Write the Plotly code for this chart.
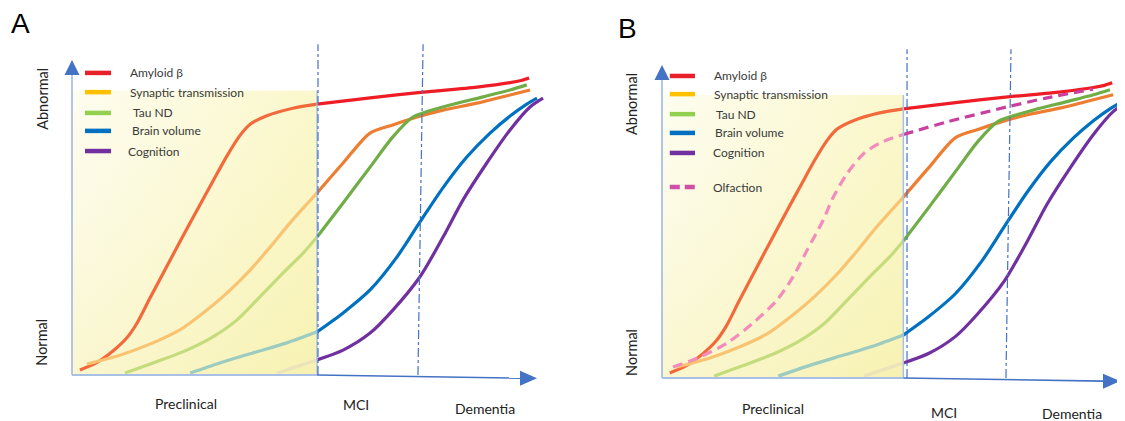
import plotly.graph_objects as go

PAGE_W, PAGE_H = 1125, 421
OFF = 8                      # default page margin around the plot div
FW, FH = PAGE_W - OFF, PAGE_H - OFF

# ---------------- data (progression 0-100 on x, abnormality 0-100 on y) ----------------
amyloid_x = [1.7, 5.4, 8.8, 11.8, 14.0, 16.8, 20.4, 23.9, 27.5, 30.3, 33.3, 36.1, 38.3, 41.9, 47.5, 52.7,
             64.1, 75.5, 87.1, 94.2, 96.6, 98.3]
amyloid_y = [1.6, 4.0, 7.6, 11.8, 16.5, 24.5, 34.5, 44.2, 54.0, 61.5, 69.5, 76.0, 79.6, 82.3, 84.7, 86.0,
             88.0, 89.8, 91.4, 92.8, 93.5, 94.3]

synaptic_x = [3.2, 10.3, 17.4, 23.2, 28.2, 33.3, 38.3, 42.6, 46.9, 52.7,
              58.3, 64.1, 69.0, 74.2, 79.8, 87.1, 94.2, 98.5]
synaptic_y = [3.5, 6.3, 10.2, 14.3, 19.7, 26.0, 33.3, 40.6, 48.3, 57.8,
              67.3, 76.8, 79.4, 81.9, 84.1, 86.3, 88.9, 90.5]

tau_x = [11.4, 17.4, 24.7, 30.3, 35.5, 40.4, 45.4, 49.7, 52.7,
         58.3, 64.1, 69.0, 73.3, 75.5, 81.3, 88.4, 94.2, 97.8]
tau_y = [0.6, 3.8, 7.9, 12.1, 17.5, 24.8, 32.4, 38.7, 43.8,
         54.6, 66.0, 75.6, 81.9, 83.2, 85.7, 88.3, 90.5, 92.1]

brain_x = [25.4, 31.8, 38.9, 46.2, 52.7, 58.3, 64.1, 69.9, 74.8, 79.8, 84.9, 89.9, 94.2, 97.8, 100.0]
brain_y = [0.6, 3.8, 7.0, 10.2, 13.7, 19.7, 27.0, 37.5, 48.5, 59.5, 69.2, 76.8, 82.2, 86.0, 87.9]

cognition_x = [44.1, 52.7, 58.3, 64.1, 69.0, 74.8, 79.8, 84.1, 89.2, 94.2, 98.5, 101.3]
cognition_y = [0.6, 4.8, 7.9, 13.3, 20.6, 31.1, 43.8, 55.6, 67.3, 77.8, 85.1, 87.9]

olfaction_x = [2.4, 8.3, 14.2, 19.9, 25.1, 28.6, 31.7, 35.2, 37.3, 40.4, 43.9, 47.6, 52.7,
               62.2, 75.3, 84.1, 94.1]
olfaction_y = [3.5, 6.7, 11.2, 17.6, 24.9, 32.3, 40.9, 50.5, 57.5, 65.3, 71.5, 75.1, 77.8,
               81.8, 86.6, 89.5, 92.3]

series_names = ["Amyloid β", "Synaptic transmission", "Tau ND", "Brain volume", "Cognition", "Olfaction"]
stage_labels = ["Preclinical", "MCI", "Dementia"]
panel_letters = ["A", "B"]

# ---------------- styling ----------------
legend_colors = ["#e8202a", "#ffc000", "#92d050", "#0070c0", "#7030a0", "#d050a8"]
out_colors = ["#ee1c25", "#ed7d31", "#70ad47", "#0070c0", "#7030a0", "#c8409e"]
in_colors = ["#f26a3c", "#f8c472", "#c4dc7c", "#9ccbc0", "#ece3b8", "#f28cbc"]
FONT = "Lato, 'Open Sans', Arial, sans-serif"
AX_LIGHT = "#a9c0e6"
AX_DARK = "#4472c4"

# panel geometry (page pixels): origin, pixels per unit, horizontal pixel extent
panels = [
    dict(ox=72, oy=375, sx=4.65, sy=3.15, xa="x", ya="y", px_l=8, px_r=580,
         box_x=52.7, box_top=90.2,
         stage_lines=[(52.9, 52.9), (75.5, 74.4)], tip_y=-1.0,
         stage_pos=[(24.5, -9.2), (61.1, -9.5), (88.8, -10.5)],
         ylab=[(-6.5, 87.6), (-6.5, 10.5)],
         leg_y=[95.9, 89.8, 83.2, 77.5, 71.1], leg_tx=[12.0, 12.0, 12.7, 12.5, 11.6],
         leg_x=(2.8, 8.4), letter=(20, 23), olf=False),
    dict(ox=662, oy=378, sx=4.58, sy=3.13, xa="x2", ya="y2", px_l=590, px_r=1125,
         box_x=52.7, box_top=90.4,
         stage_lines=[(53.5, 53.5), (76.2, 75.1)], tip_y=-1.0,
         stage_pos=[(24.2, -9.6), (61.6, -10.9), (89.5, -11.2)],
         ylab=[(-6.8, 87.5), (-6.8, 8.3)],
         leg_y=[96.5, 90.7, 84.3, 78.3, 71.9, 61.0], leg_tx=[10.9, 10.9, 11.4, 11.1, 10.7, 10.7],
         leg_x=(1.7, 7.2), letter=(627, 29), olf=True),
]

curves = [(amyloid_x, amyloid_y), (synaptic_x, synaptic_y), (tau_x, tau_y),
          (brain_x, brain_y), (cognition_x, cognition_y), (olfaction_x, olfaction_y)]


def split(xs, ys, xb):
    a = [(x, y) for x, y in zip(xs, ys) if x <= xb + 1e-9]
    b = [(x, y) for x, y in zip(xs, ys) if x >= xb - 1e-9]
    return a, b


fig = go.Figure()
shapes = []
annotations = []
layout_axes = {}

for pi, p in enumerate(panels):
    xa, ya = p["xa"], p["ya"]
    sx, sy = p["sx"], p["sy"]
    bx, bt = p["box_x"], p["box_top"]
    # ranges derived from the pixel extent so 1 unit = sx / sy pixels
    xr = [(p["px_l"] - p["ox"]) / sx, (p["px_r"] - p["ox"]) / sx]
    yr = [(p["oy"] - PAGE_H) / sy, (p["oy"] - OFF) / sy]
    xd = [(p["px_l"] - OFF) / FW, (p["px_r"] - OFF) / FW]
    key = "" if pi == 0 else str(pi + 1)
    layout_axes["xaxis" + key] = dict(domain=xd, range=xr, visible=False, fixedrange=True,
                                      anchor=ya)
    layout_axes["yaxis" + key] = dict(domain=[0, 1], range=yr, visible=False, fixedrange=True,
                                      anchor=xa)

    # yellow preclinical box (gradient)
    fig.add_trace(go.Scatter(
        x=[0, bx, bx, 0, 0], y=[0, 0, bt, bt, 0], xaxis=xa, yaxis=ya,
        mode="lines", line=dict(width=0), fill="toself", hoverinfo="skip", showlegend=False,
        fillgradient=dict(type="horizontal",
                          colorscale=[[0, "rgb(253,252,234)"], [1, "rgb(249,245,186)"]])))
    fig.add_trace(go.Scatter(
        x=[0, bx, bx, 0, 0], y=[0, 0, bt, bt, 0], xaxis=xa, yaxis=ya,
        mode="lines", line=dict(width=0), fill="toself", hoverinfo="skip", showlegend=False,
        fillgradient=dict(type="vertical",
                          colorscale=[[0, "rgba(244,236,160,0.35)"], [1, "rgba(255,255,255,0.25)"]])))

    n_series = 6 if p["olf"] else 5
    for si in range(n_series):
        xs, ys = curves[si]
        inner, outer = split(xs, ys, bx)
        dash = "10px,6px" if si == 5 else None
        for seg, col in ((inner, in_colors[si]), (outer, out_colors[si])):
            if len(seg) < 2:
                continue
            fig.add_trace(go.Scatter(
                x=[q[0] for q in seg], y=[q[1] for q in seg], xaxis=xa, yaxis=ya,
                mode="lines", line=dict(color=col, width=3.2, shape="spline", smoothing=0.8,
                                        dash=dash),
                cliponaxis=False, hoverinfo="skip", showlegend=False))
        # legend sample
        fig.add_trace(go.Scatter(
            x=list(p["leg_x"]), y=[p["leg_y"][si]] * 2, xaxis=xa, yaxis=ya, mode="lines",
            line=dict(color=legend_colors[si], width=4.5, dash="10px,5px" if si == 5 else None),
            hoverinfo="skip", showlegend=False))
        annotations.append(dict(
            x=p["leg_tx"][si], y=p["leg_y"][si], xref=xa, yref=ya, text=series_names[si],
            showarrow=False, xanchor="left", yanchor="middle",
            font=dict(family=FONT, size=12, color="#3a3a3a")))

    # box right border & bottom border (light blue)
    shapes.append(dict(type="line", xref=xa, yref=ya, x0=bx, y0=0, x1=bx, y1=bt,
                       line=dict(color=AX_LIGHT, width=1.5)))
    shapes.append(dict(type="line", xref=xa, yref=ya, x0=0, y0=0, x1=bx, y1=0,
                       line=dict(color=AX_LIGHT, width=1.8)))
    # y axis (light) + arrow head
    ah_len, ah_half = 15 / sy, 7.5 / sx
    shapes.append(dict(type="line", xref=xa, yref=ya, x0=0, y0=0, x1=0, y1=100 - ah_len,
                       line=dict(color=AX_LIGHT, width=1.8)))
    shapes.append(dict(type="path", xref=xa, yref=ya,
                       path=f"M {-ah_half},{100 - ah_len} L 0,100 L {ah_half},{100 - ah_len} Z",
                       fillcolor=AX_DARK, line=dict(width=0)))
    # x axis outside the box (dark) + arrow head
    xh_len, xh_half = 17 / sx, 7.5 / sy
    ty = p["tip_y"]
    shapes.append(dict(type="line", xref=xa, yref=ya, x0=bx, y0=0, x1=100 - xh_len, y1=ty,
                       line=dict(color=AX_DARK, width=1.6)))
    shapes.append(dict(type="path", xref=xa, yref=ya,
                       path=f"M {100 - xh_len},{ty + xh_half} L 100,{ty} L {100 - xh_len},{ty - xh_half} Z",
                       fillcolor=AX_DARK, line=dict(width=0)))
    # stage boundaries
    for (xt, xb_) in p["stage_lines"]:
        shapes.append(dict(type="line", xref=xa, yref=ya, x0=xb_, y0=0, x1=xt, y1=105,
                           line=dict(color=AX_DARK, width=1.2, dash="dashdot")))
    # stage labels
    for lab, (lx, ly) in zip(stage_labels, p["stage_pos"]):
        annotations.append(dict(x=lx, y=ly, xref=xa, yref=ya, text=lab, showarrow=False,
                                xanchor="center", yanchor="middle",
                                font=dict(family=FONT, size=14, color="#222")))
    # y labels
    for lab, (lx, ly) in zip(["Abnormal", "Normal"], p["ylab"]):
        annotations.append(dict(x=lx, y=ly, xref=xa, yref=ya, text=lab, showarrow=False,
                                xanchor="center", yanchor="middle",
                                textangle=-90, font=dict(family=FONT, size=14.5, color="#222")))
    # panel letter
    annotations.append(dict(x=(p["letter"][0] - OFF) / FW, y=1 - (p["letter"][1] - OFF) / FH,
                            xref="paper", yref="paper", text=panel_letters[pi], showarrow=False,
                            xanchor="center", yanchor="middle",
                            font=dict(family="Liberation Sans, Arial, sans-serif", size=28,
                                      color="#000")))

fig.update_layout(
    width=FW, height=FH, margin=dict(l=0, r=0, t=0, b=0),
    paper_bgcolor="white", plot_bgcolor="rgba(0,0,0,0)",
    showlegend=False, shapes=shapes, annotations=annotations, **layout_axes)

fig.write_html("out.html")
